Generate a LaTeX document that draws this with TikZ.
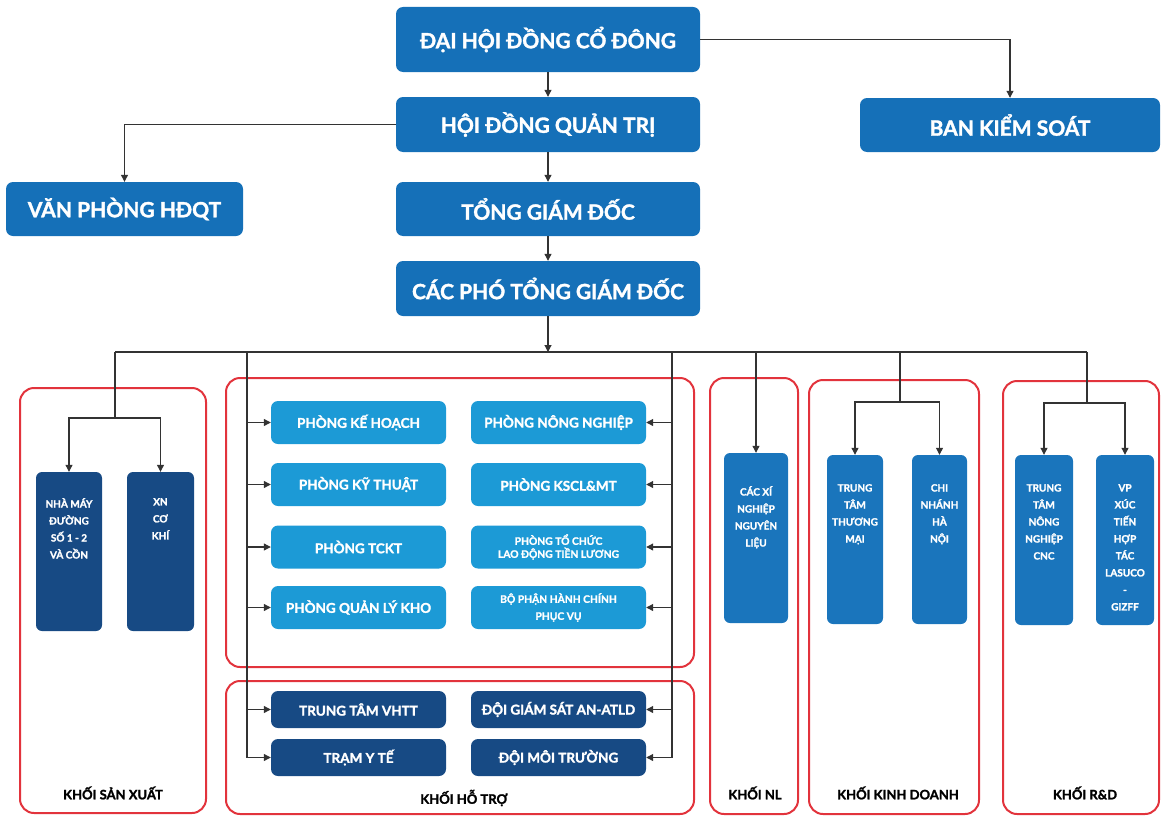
\documentclass[tikz,border=0pt]{standalone}
\usepackage{fontspec}
\setmainfont{Lato}[BoldFeatures={FakeBold=1.6}]
\usetikzlibrary{arrows.meta,calc}
\definecolor{topblue}{HTML}{1570B8}
\definecolor{lightblue}{HTML}{1C9AD6}
\definecolor{darkblue}{HTML}{174A84}
\definecolor{colblue}{HTML}{1A75BC}
\definecolor{grpred}{HTML}{E2333C}
\definecolor{linegray}{HTML}{333333}
\tikzset{
  box/.style={draw=none, rounded corners=7pt, text=white, font=\bfseries, align=center, inner sep=0pt},
  topbox/.style={box, fill=topblue, font=\fontsize{21}{24}\selectfont\bfseries},
  supbox/.style={box, fill=lightblue, minimum width=175pt, minimum height=43pt, font=\fontsize{13.5}{16}\selectfont\bfseries},
  supsmall/.style={supbox, font=\fontsize{10.3}{13}\selectfont\bfseries},
  lowbox/.style={box, fill=darkblue, minimum width=175pt, minimum height=37pt, font=\fontsize{13.5}{16}\selectfont\bfseries},
  colbox/.style={box, fill=colblue, rounded corners=6pt},
  dcolbox/.style={box, fill=darkblue, rounded corners=6pt},
  coltext/.style={anchor=north, text=white, align=center, inner sep=0pt, font=\fontsize{10}{17}\selectfont\bfseries},
  group/.style={draw=grpred, line width=2pt, rounded corners=14pt},
  grplabel/.style={font=\fontsize{13}{15}\selectfont\bfseries, text=black, inner sep=0pt},
  conn/.style={draw=linegray, line width=1.1pt},
  arr/.style={conn, -{Triangle[length=7pt,width=7pt]}}
}
\begin{document}
\begin{tikzpicture}[x=1pt,y=-1pt]
\useasboundingbox (0,0) rectangle (1161,816);
% group frames
\draw[group] (20,388) rectangle (206,813);
\draw[group] (226,378) rectangle (694,667);
\draw[group] (226,681) rectangle (694,814);
\draw[group] (710,378) rectangle (798,814);
\draw[group] (809,380) rectangle (979,814);
\draw[group] (1003,381) rectangle (1159,814);
\node[grplabel] (lsx) at (113,793) {KHỐI SẢN XUẤT};
\node[grplabel] (lht) at (464,798) {KHỐI HỖ TRỢ};
\node[grplabel] (lnl) at (755,793) {KHỐI NL};
\node[grplabel] (lkd) at (898,793) {KHỐI KINH DOANH};
\node[grplabel] (lrd) at (1085,793) {KHỐI R\&D};
% top boxes
\node[topbox, minimum width=304pt, minimum height=65pt] (A) at (548,39.5) {ĐẠI HỘI ĐỒNG CỔ ĐÔNG};
\node[topbox, minimum width=304pt, minimum height=55pt] (HDQT) at (548,124.5) {HỘI ĐỒNG QUẢN TRỊ};
\node[topbox, minimum width=300pt, minimum height=54pt] (BKS) at (1010,125) {BAN KIỂM SOÁT};
\node[topbox, minimum width=237pt, minimum height=54pt] (VP) at (124.5,209) {VĂN PHÒNG HĐQT};
\node[topbox, minimum width=304pt, minimum height=54pt] (TGD) at (548,209) {TỔNG GIÁM ĐỐC};
\node[topbox, minimum width=304pt, minimum height=55pt] (CP) at (548,288.5) {CÁC PHÓ TỔNG GIÁM ĐỐC};
% support boxes (upper)
\node[supbox] (S1) at (358.5,422.5) {PHÒNG KẾ HOẠCH};
\node[supbox] (S2) at (358.5,484.5) {PHÒNG KỸ THUẬT};
\node[supbox] (S3) at (358.5,547) {PHÒNG TCKT};
\node[supbox] (S4) at (358.5,607.5) {PHÒNG QUẢN LÝ KHO};
\node[supbox] (R1) at (558.5,422.5) {PHÒNG NÔNG NGHIỆP};
\node[supbox] (R2) at (558.5,484.5) {PHÒNG KSCL\&MT};
\node[supsmall] (R3) at (558.5,547) {PHÒNG TỔ CHỨC\\LAO ĐỘNG TIỀN LƯƠNG};
\node[supsmall, font=\fontsize{10.3}{17}\selectfont\bfseries] (R4) at (558.5,607.5) {BỘ PHẬN HÀNH CHÍNH\\PHỤC VỤ};
% support boxes (lower)
\node[lowbox] (T1) at (358.5,709.5) {TRUNG TÂM VHTT};
\node[lowbox] (T2) at (358.5,757.5) {TRẠM Y TẾ};
\node[lowbox] (U1) at (558.5,709.5) {ĐỘI GIÁM SÁT AN-ATLD};
\node[lowbox] (U2) at (558.5,757.5) {ĐỘI MÔI TRƯỜNG};
% column boxes
\node[dcolbox, minimum width=66pt, minimum height=159pt] (NMD) at (69,551.5) {};
\node[coltext] (tNMD) at (69,498) {NHÀ MÁY\\ĐƯỜNG\\SỐ 1 - 2\\VÀ CỒN};
\node[dcolbox, minimum width=67pt, minimum height=159pt] (XN) at (160.5,551.5) {};
\node[coltext] (tXN) at (160.5,498) {XN\\CƠ\\KHÍ};
\node[colbox, minimum width=64pt, minimum height=170pt] (CXN) at (756,538) {};
\node[coltext] (tCXN) at (756,486) {CÁC XÍ\\NGHIỆP\\NGUYÊN\\LIỆU};
\node[colbox, minimum width=56pt, minimum height=169pt] (TTTM) at (855,539.5) {};
\node[coltext] (tTTTM) at (855,484) {TRUNG\\TÂM\\THƯƠNG\\MẠI};
\node[colbox, minimum width=55pt, minimum height=169pt] (CNHN) at (939.5,539.5) {};
\node[coltext] (tCNHN) at (939.5,484) {CHI\\NHÁNH\\HÀ\\NỘI};
\node[colbox, minimum width=58pt, minimum height=170pt] (TTNN) at (1044,540) {};
\node[coltext] (tTTNN) at (1044,484) {TRUNG\\TÂM\\NÔNG\\NGHIỆP\\CNC};
\node[colbox, minimum width=58pt, minimum height=170pt] (VPX) at (1125,540) {};
\node[coltext] (tVPX) at (1125,484) {VP\\XÚC\\TIẾN\\HỢP\\TÁC\\LASUCO\\-\\GIZFF};
% top connectors
\draw[arr] (A.south) -- (HDQT.north);
\draw[arr] (HDQT.south) -- (TGD.north);
\draw[arr] (TGD.south) -- (CP.north);
\draw[arr] (A.east) -| (BKS.north);
\draw[arr] (HDQT.west) -| (VP.north);
% bus
\coordinate (b0) at (548,352);
\coordinate (bL) at (115,352);
\coordinate (bR) at (1087,352);
\draw[arr] (CP.south) -- (b0);
\draw[conn] (bL) -- (bR);
% san xuat
\coordinate (sxj) at (115,418);
\draw[conn] (bL) -- (sxj);
\draw[arr] (sxj) -| (NMD.north);
\draw[arr] (sxj) -| (XN.north);
% ho tro
\coordinate (htl) at (247,352);
\coordinate (htr) at (672,352);
\draw[arr] (htl) |- (T2.west);
\foreach \n in {S1,S2,S3,S4,T1} \draw[arr] (htl |- \n.west) -- (\n.west);
\draw[arr] (htr) |- (U2.east);
\foreach \n in {R1,R2,R3,R4,U1} \draw[arr] (htr |- \n.east) -- (\n.east);
% NL
\draw[arr] (CXN.north |- bL) -- (CXN.north);
% kinh doanh
\coordinate (kdt) at (900,352);
\coordinate (kdj) at (900,402);
\draw[conn] (kdt) -- (kdj);
\draw[arr] (kdj) -| (TTTM.north);
\draw[arr] (kdj) -| (CNHN.north);
% R&D
\coordinate (rdj) at (1087,403);
\draw[conn] (bR) -- (rdj);
\draw[arr] (rdj) -| (TTNN.north);
\draw[arr] (rdj) -| (VPX.north);
\end{tikzpicture}
\end{document}
